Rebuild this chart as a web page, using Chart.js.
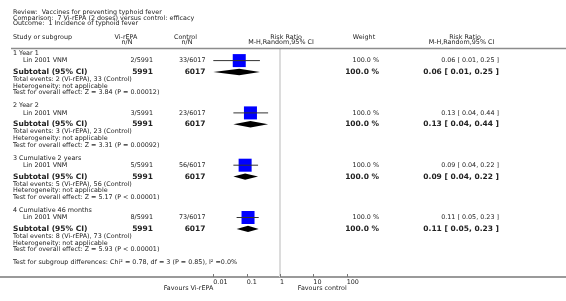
<!DOCTYPE html>
<html>
<head>
<meta charset="utf-8">
<script src="https://cdn.jsdelivr.net/npm/chart.js@4.4.1/dist/chart.umd.min.js"></script>
<style>
  html, body { margin: 0; padding: 0; background: #ffffff; }
  canvas { display: block; }
</style>
</head>
<body>
<canvas id="forest" width="566" height="301"></canvas>
<script>
// ============================================================================
// Data
// ============================================================================

const titleLines = [
    'Review:  Vaccines for preventing typhoid fever',
    'Comparison:  7 Vi-rEPA (2 doses) versus control: efficacy',
    'Outcome:  1 Incidence of typhoid fever'
];
const subgroups = ['1 Year 1', '2 Year 2', '3 Cumulative 2 years', '4 Cumulative 46 months'];
const studies = ['Lin 2001 VNM', 'Lin 2001 VNM', 'Lin 2001 VNM', 'Lin 2001 VNM'];
const vaccineEvents = [2, 3, 5, 8];
const vaccineTotals = [5991, 5991, 5991, 5991];
const controlEvents = [33, 23, 56, 73];
const controlTotals = [6017, 6017, 6017, 6017];
const weights = [100.0, 100.0, 100.0, 100.0];
const riskRatios = [0.06, 0.13, 0.09, 0.11];
const ciLower = [0.01, 0.04, 0.04, 0.05];
const ciUpper = [0.25, 0.44, 0.22, 0.23];
const overallTests = ['Z = 3.84 (P = 0.00012)', 'Z = 3.31 (P = 0.00092)', 'Z = 5.17 (P < 0.00001)', 'Z = 5.93 (P < 0.00001)'];
const subgroupTest = 'Test for subgroup differences: Chi\u00b2 = 0.78, df = 3 (P = 0.85), I\u00b2 =0.0%';
const tickValues = [0.01, 0.1, 1, 10, 100];
const tickLabels = ['0.01', '0.1', '1', '10', '100'];

// ============================================================================
// Layout
// ============================================================================

const FONT = '"DejaVu Sans", Verdana, sans-serif';
const TEXT = '#222222';
const SMALL = 6.4;
const BOLD = 7.5;
const ROW_TOP = 53.3;
const GROUP_STEP = 52.3;
const ROW_OFFSET = { header: 0, study: 7.3, subtotal: 18.7, events: 26, het: 32.7, test: 39.3 };
const COL = { study: 13, indent: 23, vac: 153, ctl: 205.5, weight: 379, rr: 499 };

function rowY(g, key) {
    return ROW_TOP + GROUP_STEP * g + ROW_OFFSET[key];
}

const fmt2 = v => v.toFixed(2);
const ciText = i => `${fmt2(riskRatios[i])} [ ${fmt2(ciLower[i])}, ${fmt2(ciUpper[i])} ]`;

// ============================================================================
// Plugin: text table, null line, diamonds
// ============================================================================

function drawText(ctx, str, x, y, align = 'left', bold = false, size = SMALL) {
    ctx.font = `${bold ? 'bold ' : ''}${size}px ${FONT}`;
    ctx.fillStyle = TEXT;
    ctx.textAlign = align;
    ctx.textBaseline = 'middle';
    ctx.fillText(str, x, y);
}

const forestPlugin = {
    id: 'forest',
    beforeDatasetsDraw(chart) {
        const { ctx, scales: { x }, chartArea } = chart;
        ctx.save();
        // null effect line
        ctx.strokeStyle = '#dcdcdc';
        ctx.lineWidth = 2;
        ctx.beginPath();
        ctx.moveTo(x.getPixelForValue(1), 49);
        ctx.lineTo(x.getPixelForValue(1), chartArea.bottom);
        ctx.stroke();
        // header rule
        ctx.strokeStyle = '#8c8c8c';
        ctx.lineWidth = 1.5;
        ctx.beginPath();
        ctx.moveTo(11, 48.5);
        ctx.lineTo(chartArea.right, 48.5);
        ctx.stroke();
        ctx.restore();
    },
    afterDatasetsDraw(chart) {
        const { ctx, scales: { x, y }, chartArea } = chart;
        ctx.save();
        // subtotal diamonds
        ctx.fillStyle = '#000000';
        subgroups.forEach((_, i) => {
            const cy = y.getPixelForValue(rowY(i, 'subtotal'));
            ctx.beginPath();
            ctx.moveTo(x.getPixelForValue(ciLower[i]), cy);
            ctx.lineTo(x.getPixelForValue(riskRatios[i]), cy - 3.2);
            ctx.lineTo(x.getPixelForValue(ciUpper[i]), cy);
            ctx.lineTo(x.getPixelForValue(riskRatios[i]), cy + 3.2);
            ctx.closePath();
            ctx.fill();
        });
        // tick marks above axis
        ctx.strokeStyle = '#777777';
        ctx.lineWidth = 1;
        tickValues.forEach(v => {
            const px = Math.round(x.getPixelForValue(v)) + 0.5;
            ctx.beginPath();
            ctx.moveTo(px, chartArea.bottom - 3);
            ctx.lineTo(px, chartArea.bottom);
            ctx.stroke();
        });
        ctx.restore();
    },
    afterDraw(chart) {
        const { ctx, scales: { x, y } } = chart;
        const nullX = x.getPixelForValue(1);
        ctx.save();

        drawText(ctx, titleLines[0], 13, 12.2);
        drawText(ctx, titleLines[1], 13, 18);
        drawText(ctx, titleLines[2], 13, 23.8);

        // column headers
        drawText(ctx, 'Study or subgroup', COL.study, 37.7);
        drawText(ctx, 'Vi-rEPA', 126, 37.7, 'center');
        drawText(ctx, 'n/N', 127, 42.7, 'center');
        drawText(ctx, 'Control', 185.5, 37.7, 'center');
        drawText(ctx, 'n/N', 187, 42.7, 'center');
        drawText(ctx, 'Risk Ratio', nullX + 6, 37.7, 'center');
        drawText(ctx, 'M-H,Random,95% CI', nullX + 1, 42.7, 'center');
        drawText(ctx, 'Weight', 364, 37.7, 'center');
        drawText(ctx, 'Risk Ratio', 465, 37.7, 'center');
        drawText(ctx, 'M-H,Random,95% CI', 461.5, 42.7, 'center');

        subgroups.forEach((name, i) => {
            const py = key => y.getPixelForValue(rowY(i, key));
            drawText(ctx, name, COL.study, py('header'));

            drawText(ctx, studies[i], COL.indent, py('study'));
            drawText(ctx, `${vaccineEvents[i]}/${vaccineTotals[i]}`, COL.vac, py('study'), 'right');
            drawText(ctx, `${controlEvents[i]}/${controlTotals[i]}`, COL.ctl, py('study'), 'right');
            drawText(ctx, `${weights[i].toFixed(1)} %`, COL.weight, py('study'), 'right');
            drawText(ctx, ciText(i), COL.rr, py('study'), 'right');

            drawText(ctx, 'Subtotal (95% CI)', COL.study, py('subtotal'), 'left', true, BOLD);
            drawText(ctx, String(vaccineTotals[i]), COL.vac, py('subtotal'), 'right', true, BOLD);
            drawText(ctx, String(controlTotals[i]), COL.ctl, py('subtotal'), 'right', true, BOLD);
            drawText(ctx, `${weights[i].toFixed(1)} %`, COL.weight, py('subtotal'), 'right', true, BOLD);
            drawText(ctx, ciText(i), COL.rr, py('subtotal'), 'right', true, BOLD);

            drawText(ctx, `Total events: ${vaccineEvents[i]} (Vi-rEPA), ${controlEvents[i]} (Control)`, COL.study, py('events'));
            drawText(ctx, 'Heterogeneity: not applicable', COL.study, py('het'));
            drawText(ctx, `Test for overall effect: ${overallTests[i]}`, COL.study, py('test'));
        });

        drawText(ctx, subgroupTest, COL.study, y.getPixelForValue(rowY(subgroups.length, 'header')));

        drawText(ctx, 'Favours Vi-rEPA', x.getPixelForValue(tickValues[0]), 288.5, 'right');
        drawText(ctx, 'Favours control', x.getPixelForValue(tickValues[tickValues.length - 1]), 288.5, 'right');
        ctx.restore();
    }
};

// ============================================================================
// Chart
// ============================================================================

const DECADE_PX = 33.35;
const NULL_PX = 280;
const CANVAS_W = 566;

const squareData = riskRatios.map((v, i) => ({ x: v, y: rowY(i, 'study') }));
const ciDatasets = riskRatios.map((_, i) => ({
    type: 'scatter',
    showLine: true,
    data: [{ x: ciLower[i], y: rowY(i, 'study') }, { x: ciUpper[i], y: rowY(i, 'study') }],
    borderColor: '#333333',
    borderWidth: 1,
    pointRadius: 0,
    order: 0
}));

new Chart(document.getElementById('forest'), {
    type: 'scatter',
    data: {
        datasets: [
            ...ciDatasets,
            {
                data: squareData,
                pointStyle: 'rect',
                pointRadius: 9.2,
                backgroundColor: '#0000ff',
                borderWidth: 0,
                order: 1
            }
        ]
    },
    options: {
        responsive: false,
        devicePixelRatio: 1,
        animation: false,
        layout: { padding: 0, autoPadding: false },
        plugins: {
            legend: { display: false },
            tooltip: { enabled: false }
        },
        scales: {
            x: {
                type: 'logarithmic',
                min: Math.pow(10, -NULL_PX / DECADE_PX),
                max: Math.pow(10, (CANVAS_W - NULL_PX) / DECADE_PX),
                offset: false,
                afterBuildTicks: scale => {
                    scale.ticks = tickValues.map(v => ({ value: v }));
                },
                afterFit: scale => { scale.height = 24; },
                grid: { display: false, drawTicks: false },
                border: { display: true, color: '#9a9a9a', width: 2 },
                ticks: {
                    autoSkip: false,
                    maxRotation: 0,
                    align: 'start',
                    padding: 2,
                    color: TEXT,
                    font: { family: FONT, size: SMALL },
                    callback: (value, index) => tickLabels[index]
                }
            },
            y: {
                type: 'linear',
                display: false,
                reverse: true,
                min: 0,
                max: 277
            }
        }
    },
    plugins: [forestPlugin]
});
</script>
</body>
</html>
